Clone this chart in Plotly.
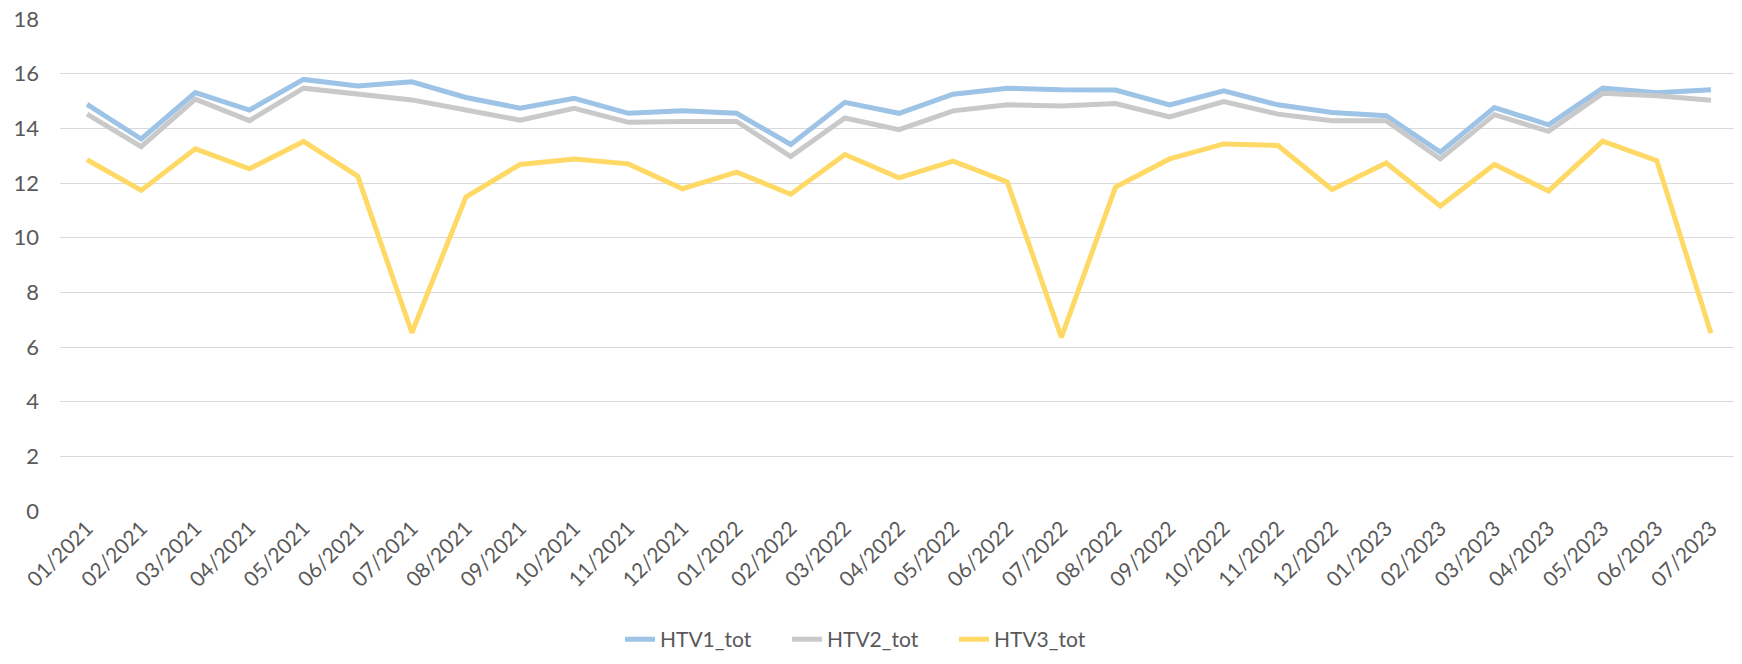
import plotly.graph_objects as go

months = [
    "01/2021", "02/2021", "03/2021", "04/2021", "05/2021", "06/2021", "07/2021",
    "08/2021", "09/2021", "10/2021", "11/2021", "12/2021", "01/2022", "02/2022",
    "03/2022", "04/2022", "05/2022", "06/2022", "07/2022", "08/2022", "09/2022",
    "10/2022", "11/2022", "12/2022", "01/2023", "02/2023", "03/2023", "04/2023",
    "05/2023", "06/2023", "07/2023",
]

htv1_tot = [
    14.88, 13.61, 15.31, 14.67, 15.79, 15.55, 15.70, 15.13, 14.74, 15.10,
    14.55, 14.64, 14.55, 13.41, 14.95, 14.55, 15.25, 15.47, 15.41, 15.40,
    14.86, 15.37, 14.86, 14.58, 14.46, 13.13, 14.76, 14.13, 15.47, 15.30, 15.41,
]

htv2_tot = [
    14.52, 13.33, 15.07, 14.28, 15.47, 15.25, 15.04, 14.67, 14.30, 14.73,
    14.22, 14.25, 14.25, 12.97, 14.38, 13.95, 14.64, 14.86, 14.82, 14.91,
    14.42, 14.98, 14.52, 14.28, 14.28, 12.88, 14.50, 13.89, 15.28, 15.19, 15.03,
]

htv3_tot = [
    12.85, 11.73, 13.25, 12.52, 13.52, 12.25, 6.52, 11.49, 12.68, 12.88,
    12.70, 11.79, 12.40, 11.59, 13.04, 12.19, 12.80, 12.04, 6.35, 11.85,
    12.88, 13.43, 13.37, 11.76, 12.73, 11.16, 12.68, 11.71, 13.53, 12.82, 6.50,
]

series = [
    ("HTV1_tot", htv1_tot, "#9DC3E6"),
    ("HTV2_tot", htv2_tot, "#C9C9C9"),
    ("HTV3_tot", htv3_tot, "#FFD966"),
]

FONT = "Lato, Carlito, Liberation Sans, sans-serif"
TEXT_COLOR = "#595959"

fig = go.Figure()
for name, values, color in series:
    fig.add_trace(go.Scatter(
        x=months, y=values, name=name, mode="lines",
        line=dict(color=color, width=5),
    ))

# the page has an 8px body margin, so the figure is 8px smaller
fig.update_layout(
    width=1734, height=656,
    paper_bgcolor="white", plot_bgcolor="white",
    margin=dict(l=52, r=4, t=11, b=151),
    font=dict(family=FONT, size=21, color=TEXT_COLOR),
    showlegend=True,
    # legend box kept inside the bottom margin so it does not shrink the plot
    legend=dict(
        orientation="h",
        x=0.483, xanchor="center",
        y=-0.303, yanchor="bottom",
        entrywidth=122,
        font=dict(size=21),
        bgcolor="rgba(0,0,0,0)",
    ),
)

fig.update_xaxes(
    type="category",
    range=[-0.5, len(months) - 0.5],
    tickangle=-45,
    showgrid=False, zeroline=False, showline=False,
    ticks="", automargin=False,
    tickfont=dict(size=21, color=TEXT_COLOR),
)

fig.update_yaxes(
    range=[0, 18], dtick=2,
    showgrid=True, gridcolor="#D9D9D9", gridwidth=1.4,
    zeroline=False, showline=False,
    ticks="", ticklabelstandoff=20, automargin=False,
    ticklabeloverflow="allow",
    tickfont=dict(size=22, color=TEXT_COLOR),
)

fig.write_html("out.html")
